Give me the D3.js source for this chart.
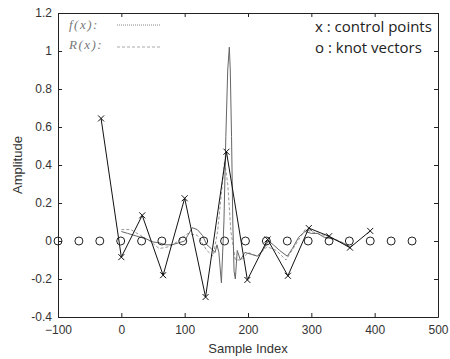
<!DOCTYPE html>
<html>
<head>
<meta charset="utf-8">
<script src="https://cdn.jsdelivr.net/npm/d3@7"></script>
<style>
  body { margin: 0; background: #fff; }
  svg { display: block; }
</style>
</head>
<body>
<div id="chart"></div>
<script>
// knot positions, all sitting on y = 0
const knotX = [-100, -67, -34, -1, 32, 64, 97, 130, 163, 196, 229, 262, 295, 328, 360, 393, 426, 459];

// control points (x markers joined by the control polygon)
const ctrlX = [-32, 0, 33, 66, 100, 133, 166, 199, 231, 263, 296, 328, 361, 393];
const ctrlY = [0.645, -0.085, 0.135, -0.18, 0.225, -0.295, 0.47, -0.205, 0.008, -0.183, 0.068, 0.025, -0.035, 0.053];

// original signal f(x)
const fX = [0, 10, 20, 30, 40, 50, 60, 70, 80, 90, 100, 105, 112, 120, 128, 135, 142, 148, 151, 154, 158, 162, 165, 168, 170.5, 172, 174, 176, 178, 180, 183, 188, 195, 205, 215, 225, 232, 240, 250, 262, 270, 280, 290, 300, 310, 320, 335, 350, 360];
const fY = [0.05, 0.04, 0.03, 0.02, 0.01, -0.005, -0.01, -0.02, -0.02, -0.01, 0.0, 0.03, 0.07, 0.06, 0.03, -0.02, -0.04, -0.06, -0.02, -0.06, -0.22, 0.1, 0.55, 0.9, 1.02, 0.9, 0.55, 0.1, -0.16, -0.2, -0.05, -0.1, -0.06, -0.07, -0.08, -0.04, 0.0, -0.02, -0.05, -0.08, -0.04, 0.02, 0.05, 0.04, 0.04, 0.02, 0.01, -0.01, -0.03];

// reconstruction R(x)
const rX = [0, 15, 30, 45, 60, 75, 90, 105, 120, 135, 145, 152, 158, 163, 168, 173, 180, 190, 200, 215, 230, 245, 260, 275, 290, 310, 330, 350, 362];
const rY = [0.06, 0.06, 0.03, 0.0, -0.04, -0.03, 0.0, 0.04, 0.03, -0.05, -0.08, 0.05, 0.25, 0.42, 0.3, 0.05, -0.1, -0.1, -0.06, -0.08, -0.03, -0.05, -0.1, -0.02, 0.06, 0.04, 0.02, -0.01, -0.04];

const xTicks = [-100, 0, 100, 200, 300, 400, 500];
const yTicks = [-0.4, -0.2, 0, 0.2, 0.4, 0.6, 0.8, 1, 1.2];

const width = 450, height = 359;
const margin = { top: 13, right: 12, bottom: 42, left: 58 };
const innerW = width - margin.left - margin.right;
const innerH = height - margin.top - margin.bottom;

const svg = d3.select('#chart').append('svg')
  .attr('width', width)
  .attr('height', height);

const g = svg.append('g')
  .attr('transform', `translate(${margin.left},${margin.top})`);

const x = d3.scaleLinear().domain([-100, 500]).range([0, innerW]);
const y = d3.scaleLinear().domain([-0.4, 1.2]).range([innerH, 0]);

const fmt = d => String(+d.toFixed(1));
const tickFont = 'Liberation Sans, Arial, sans-serif';

// axes with inward ticks on all four sides
function styleAxis(sel) {
  sel.select('.domain').attr('stroke', '#222');
  sel.selectAll('.tick line').attr('stroke', '#222');
  sel.selectAll('.tick text')
    .attr('fill', '#333')
    .style('font-family', tickFont)
    .style('font-size', '12px');
}

g.append('g')
  .attr('transform', `translate(0,${innerH})`)
  .call(d3.axisBottom(x).tickValues(xTicks).tickSizeInner(-4).tickSizeOuter(0).tickPadding(8).tickFormat(d3.format('d')))
  .call(styleAxis);

g.append('g')
  .call(d3.axisLeft(y).tickValues(yTicks).tickSizeInner(-4).tickSizeOuter(0).tickPadding(6).tickFormat(fmt))
  .call(styleAxis);

g.append('g')
  .call(d3.axisTop(x).tickValues(xTicks).tickSizeInner(-4).tickSizeOuter(0).tickFormat(''))
  .call(styleAxis);

g.append('g')
  .attr('transform', `translate(${innerW},0)`)
  .call(d3.axisRight(y).tickValues(yTicks).tickSizeInner(-4).tickSizeOuter(0).tickFormat(''))
  .call(styleAxis);

const line = d3.line().x(d => x(d[0])).y(d => y(d[1]));

// R(x) dashed light gray
g.append('path')
  .datum(rX.map((v, i) => [v, rY[i]]))
  .attr('d', line)
  .attr('fill', 'none')
  .attr('stroke', '#999')
  .attr('stroke-width', 1)
  .attr('stroke-dasharray', '3,2');

// f(x) thin gray
g.append('path')
  .datum(fX.map((v, i) => [v, fY[i]]))
  .attr('d', line)
  .attr('fill', 'none')
  .attr('stroke', '#666')
  .attr('stroke-width', 1);

// control polygon
const ctrl = ctrlX.map((v, i) => [v, ctrlY[i]]);
g.append('path')
  .datum(ctrl)
  .attr('d', line)
  .attr('fill', 'none')
  .attr('stroke', '#111')
  .attr('stroke-width', 1);

// x markers
const s = 3;
g.selectAll('.ctrl')
  .data(ctrl)
  .enter()
  .append('path')
  .attr('class', 'ctrl')
  .attr('d', d => {
    const cx = x(d[0]), cy = y(d[1]);
    return `M${cx - s},${cy - s}L${cx + s},${cy + s}M${cx - s},${cy + s}L${cx + s},${cy - s}`;
  })
  .attr('stroke', '#111')
  .attr('stroke-width', 1);

// knot circles
g.selectAll('.knot')
  .data(knotX)
  .enter()
  .append('circle')
  .attr('class', 'knot')
  .attr('cx', d => x(d))
  .attr('cy', y(0))
  .attr('r', 4)
  .attr('fill', 'none')
  .attr('stroke', '#222')
  .attr('stroke-width', 1);

// legend, top left
const lg = g.append('g').attr('transform', 'translate(11,0)');
const legFont = 'Liberation Serif, serif';
lg.append('text')
  .attr('x', 0).attr('y', 16)
  .style('font-family', legFont)
  .style('font-style', 'italic')
  .style('font-size', '13px')
  .style('letter-spacing', '1.5px')
  .attr('fill', '#777')
  .text('f(x):');
lg.append('line')
  .attr('x1', 48).attr('x2', 92).attr('y1', 12).attr('y2', 12)
  .attr('stroke', '#888').attr('stroke-dasharray', '1,1');
lg.append('text')
  .attr('x', 0).attr('y', 36)
  .style('font-family', legFont)
  .style('font-style', 'italic')
  .style('font-size', '13px')
  .style('letter-spacing', '1.5px')
  .attr('fill', '#777')
  .text('R(x):');
lg.append('line')
  .attr('x1', 48).attr('x2', 93).attr('y1', 34).attr('y2', 34)
  .attr('stroke', '#aaa').attr('stroke-dasharray', '3,2');

// annotation, top right
const note = g.append('g');
note.append('text')
  .attr('x', 257).attr('y', 19)
  .style('font-family', 'Open Sans, sans-serif')
  .style('font-size', '15px')
  .attr('fill', '#222')
  .text('x : control points');
note.append('text')
  .attr('x', 257).attr('y', 40)
  .style('font-family', 'Open Sans, sans-serif')
  .style('font-size', '15px')
  .attr('fill', '#222')
  .text('o : knot vectors');

// axis titles
svg.append('text')
  .attr('x', margin.left + innerW / 2)
  .attr('y', height - 6)
  .attr('text-anchor', 'middle')
  .style('font-family', tickFont)
  .style('font-size', '13px')
  .attr('fill', '#333')
  .text('Sample Index');

svg.append('text')
  .attr('transform', `translate(22,${margin.top + innerH / 2}) rotate(-90)`)
  .attr('text-anchor', 'middle')
  .style('font-family', tickFont)
  .style('font-size', '13px')
  .attr('fill', '#333')
  .text('Amplitude');
</script>
</body>
</html>
